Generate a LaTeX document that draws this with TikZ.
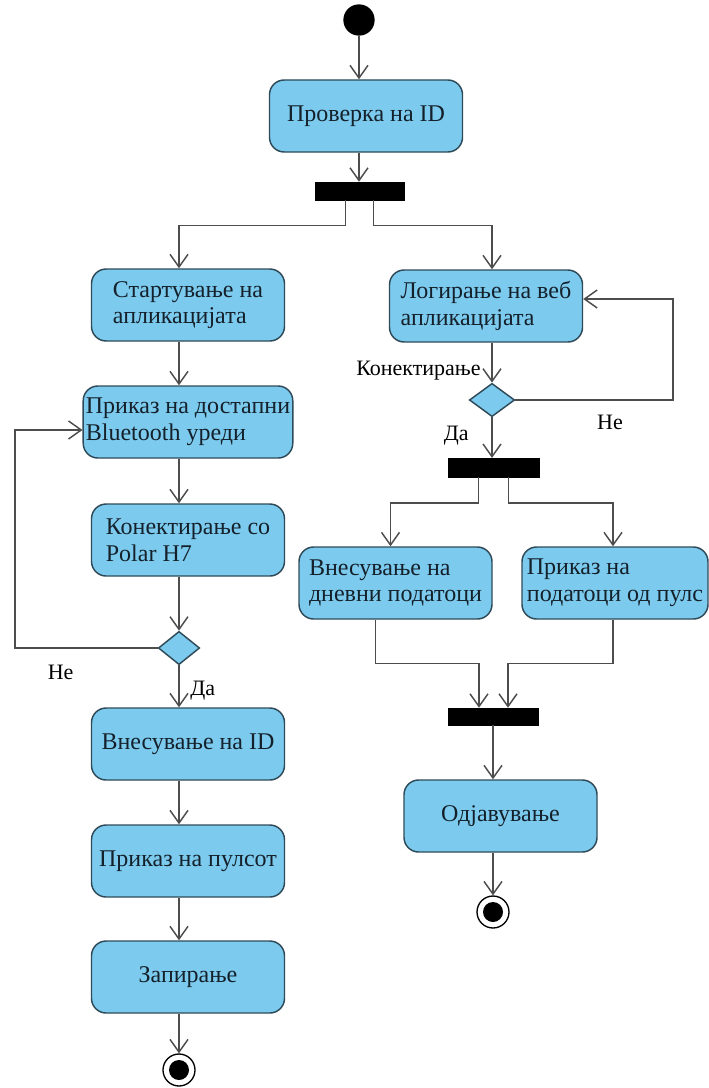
\documentclass[tikz,border=0pt]{standalone}
\usepackage{fontspec}
\setmainfont{Liberation Serif}
\usetikzlibrary{arrows.meta,positioning,calc,shapes.geometric}
\definecolor{AktivnaSina}{HTML}{7CCBEF}
\definecolor{RabTemen}{HTML}{2F4A58}
\definecolor{LinijaSiva}{HTML}{4D4D4D}
\definecolor{TekstTemen}{HTML}{14202A}
\tikzset{
  aktivnost/.style = {draw=RabTemen, line width=1.1pt, rounded corners=11pt,
                      fill=AktivnaSina, align=left, text=TekstTemen,
                      font=\fontsize{18}{20}\selectfont,
                      minimum width=144.75pt, minimum height=54pt, inner sep=2pt},
  odluka/.style    = {draw=RabTemen, diamond, fill=AktivnaSina, line width=1.1pt,
                      minimum width=31pt, minimum height=25pt, inner sep=0pt},
  greda/.style     = {draw=black, fill=black, minimum height=13.5pt, inner sep=0pt},
  pocetok/.style   = {circle, fill=black, minimum size=23.5pt, inner sep=0pt},
  kraj/.style      = {circle, draw=black, line width=1pt, fill=white,
                      minimum size=24pt, inner sep=0pt,
                      path picture={\fill[black] (path picture bounding box.center) circle (7.5pt);}},
  strelka/.style   = {-{Straight Barb[length=9.5pt,width=13.5pt]}, draw=LinijaSiva, line width=1.1pt},
  oznaka/.style    = {font=\fontsize{16.5}{18}\selectfont, text=black, inner sep=1pt},
}
\begin{document}
\begin{tikzpicture}[x=0.75pt, y=-0.75pt]
  \useasboundingbox (0,0) rectangle (709,1088);
  \coordinate (colL) at (179,0);
  \coordinate (colR) at (492,0);
  \coordinate (loopL) at (15,430);
  \coordinate (loopR) at (673,299);

  % zaednicki del
  \node[pocetok] (start) at (359,20) {};
  \node[aktivnost] (proverka) at (366,116) {Проверка на ID};
  \node[greda, minimum width=66.75pt] (fork1) at (359.5,191) {};

  % leva granka
  \node[aktivnost] (startuvanje) at (188,305) {Стартување на\\апликацијата};
  \node[aktivnost] (prikaz) at (188,422) {Приказ на достапни\\Bluetooth уреди};
  \node[aktivnost] (konekt) at (188,540) {Конектирање со\\Polar H7};
  \node[odluka] (dec1) at (179,648) {};
  \node[aktivnost] (vnesID) at (188,744) {Внесување на ID};
  \node[aktivnost] (puls) at (188,861) {Приказ на пулсот};
  \node[aktivnost] (zapiranje) at (188,977) {Запирање};
  \node[kraj] (kraj1) at (179,1070) {};

  % desna granka
  \node[aktivnost] (logiranje) at (486,306) {Логирање на веб\\апликацијата};
  \node[odluka, minimum width=34pt] (dec2) at (492,400) {};
  \node[greda, minimum width=68pt, minimum height=14pt] (fork2) at (493.5,467.5) {};
  \node[aktivnost] (dnevni) at (395.5,583) {Внесување на\\дневни податоци};
  \node[aktivnost, minimum width=139.5pt] (pulsdata) at (615,583) {Приказ на\\податоци од пулс};
  \node[greda, minimum width=67.5pt, minimum height=12.75pt] (join) at (493,716.5) {};
  \node[aktivnost] (odjava) at (500.5,816) {Одјавување};
  \node[kraj] (kraj2) at (493,912) {};

  % vrski
  \draw[strelka] (start) -- (start |- proverka.north);
  \draw[strelka] (proverka.south -| start) -- (fork1.north -| start);
  \draw[strelka] ($(fork1.south)+(-14,0)$) -- ++(0,25) -| (startuvanje.north -| colL);
  \draw[strelka] ($(fork1.south)+(14,0)$) -- ++(0,25) -| (logiranje.north -| colR);

  \draw[strelka] (startuvanje.south -| colL) -- (prikaz.north -| colL);
  \draw[strelka] (prikaz.south -| colL) -- (konekt.north -| colL);
  \draw[strelka] (konekt.south -| colL) -- (dec1.north);
  \draw[strelka] (dec1.south) -- node[oznaka, right=7pt, pos=0.6]{Да} (vnesID.north -| colL);
  \draw[strelka] (dec1.west) -| node[oznaka, below=11pt, pos=0.34]{Не} (loopL) -- (prikaz.west |- loopL);
  \draw[strelka] (vnesID.south -| colL) -- (puls.north -| colL);
  \draw[strelka] (puls.south -| colL) -- (zapiranje.north -| colL);
  \draw[strelka] (zapiranje.south -| colL) -- (kraj1);

  \draw[strelka] (logiranje.south -| colR) -- node[oznaka, pos=0.7, anchor=east, xshift=-7pt]{Конектирање} (dec2.north);
  \draw[strelka] (dec2.east) -| node[oznaka, pos=0.3, below=10pt]{Не} (loopR) -- (logiranje.east |- loopR);
  \draw[strelka] (dec2.south) -- node[oznaka, pos=0.45, anchor=east, xshift=-16pt]{Да} (fork2.north -| colR);
  \draw[strelka] ($(fork2.south)+(-15,0)$) -- ++(0,26) -| ($(dnevni.north)+(-5,0)$);
  \draw[strelka] ($(fork2.south)+(15,0)$) -- ++(0,26) -| ($(pulsdata.north)+(-2,0)$);
  \draw[strelka] ($(dnevni.south)+(-20,0)$) -- ++(0,44) -| ($(join.north)+(-14,0)$);
  \draw[strelka] ($(pulsdata.south)+(-2,0)$) -- ++(0,44) -| ($(join.north)+(15,0)$);
  \draw[strelka] (join.south) -- (join.south |- odjava.north);
  \draw[strelka] (odjava.south -| join) -- (kraj2);
\end{tikzpicture}
\end{document}
